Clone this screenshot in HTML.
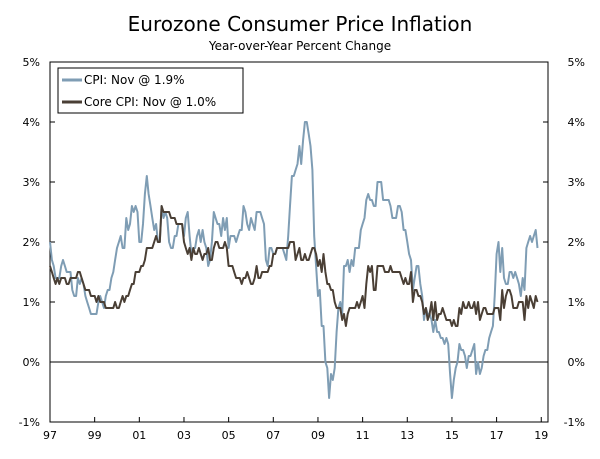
<!DOCTYPE html>
<html><head><meta charset="utf-8"><style>
body{margin:0;background:#fff;}
svg text{font-family:"DejaVu Sans","Liberation Sans",sans-serif;fill:#000;}
</style></head><body>
<svg id="c" width="600" height="454" viewBox="0 0 600 454">
<text x="300" y="31" font-size="20" text-anchor="middle">Eurozone Consumer Price Inflation</text>
<text x="300" y="50" font-size="12" text-anchor="middle">Year-over-Year Percent Change</text>
<g id="axes"></g>
<g id="series"></g>
<g>
<rect x="58" y="68" width="185" height="45" fill="#fff" stroke="#000" stroke-width="1"/>
<line x1="62" y1="80" x2="82" y2="80" stroke="#7f9db4" stroke-width="3"/>
<text x="84" y="84" font-size="12">CPI: Nov @ 1.9%</text>
<line x1="62" y1="102" x2="82" y2="102" stroke="#4a3f35" stroke-width="3"/>
<text x="84" y="106" font-size="12">Core CPI: Nov @ 1.0%</text>
</g>
</svg>
<script>
const yTicks=[5,4,3,2,1,0,-1];
const yTickLabels=["5%","4%","3%","2%","1%","0%","-1%"];
const xTickLabels=["97","99","01","03","05","07","09","11","13","15","17","19"];
const xTickYears=[1997,1999,2001,2003,2005,2007,2009,2011,2013,2015,2017,2019];
const cpi=[2.0,1.7,1.6,1.4,1.4,1.4,1.6,1.7,1.6,1.5,1.5,1.5,
1.2,1.1,1.1,1.4,1.3,1.4,1.3,1.1,1.0,0.9,0.8,0.8,
0.8,0.8,1.0,1.1,1.0,0.9,1.1,1.2,1.2,1.4,1.5,1.7,
1.9,2.0,2.1,1.9,1.9,2.4,2.2,2.3,2.6,2.5,2.6,2.5,
2.0,2.0,2.3,2.8,3.1,2.8,2.6,2.4,2.2,2.3,2.0,2.0,
2.6,2.4,2.5,2.4,2.0,1.9,1.9,2.1,2.1,2.3,2.3,2.3,
2.1,2.4,2.5,2.1,1.8,1.9,1.9,2.1,2.2,2.0,2.2,2.0,
1.9,1.6,1.7,2.0,2.5,2.4,2.3,2.3,2.1,2.4,2.2,2.4,
1.9,2.1,2.1,2.1,2.0,2.1,2.2,2.2,2.6,2.5,2.3,2.2,
2.4,2.3,2.2,2.5,2.5,2.5,2.4,2.3,1.7,1.6,1.9,1.9,
1.8,1.8,1.9,1.9,1.9,1.9,1.8,1.7,2.1,2.6,3.1,3.1,
3.2,3.3,3.6,3.3,3.7,4.0,4.0,3.8,3.6,3.2,2.1,1.6,
1.1,1.2,0.6,0.6,0.0,-0.1,-0.6,-0.2,-0.3,-0.1,0.5,0.9,
1.0,0.8,1.6,1.6,1.7,1.5,1.7,1.6,1.9,1.9,1.9,2.2,
2.3,2.4,2.7,2.8,2.7,2.7,2.6,2.6,3.0,3.0,3.0,2.7,
2.7,2.7,2.7,2.6,2.4,2.4,2.4,2.6,2.6,2.5,2.2,2.2,
2.0,1.8,1.7,1.2,1.4,1.6,1.6,1.3,1.1,0.7,0.9,0.8,
0.8,0.7,0.5,0.7,0.5,0.5,0.4,0.4,0.3,0.4,0.3,-0.2,
-0.6,-0.3,-0.1,0.0,0.3,0.2,0.2,0.1,-0.1,0.1,0.1,0.2,
0.3,-0.2,0.0,-0.2,-0.1,0.1,0.2,0.2,0.4,0.5,0.6,1.1,
1.8,2.0,1.5,1.9,1.4,1.3,1.3,1.5,1.5,1.4,1.5,1.4,
1.3,1.1,1.4,1.2,1.9,2.0,2.1,2.0,2.1,2.2,1.9];
const core=[1.6,1.5,1.4,1.3,1.4,1.3,1.4,1.4,1.4,1.3,1.3,1.4,
1.4,1.4,1.4,1.5,1.5,1.4,1.3,1.2,1.2,1.2,1.1,1.1,
1.1,1.0,1.1,1.0,1.0,1.0,0.9,0.9,0.9,0.9,0.9,1.0,
0.9,0.9,1.0,1.1,1.0,1.1,1.1,1.2,1.3,1.3,1.5,1.5,
1.5,1.6,1.6,1.7,1.9,1.9,1.9,1.9,2.0,2.1,2.0,2.0,
2.6,2.5,2.5,2.5,2.5,2.4,2.4,2.4,2.3,2.3,2.3,2.3,
2.0,1.9,1.8,1.9,1.7,1.9,1.8,1.8,1.9,1.8,1.7,1.8,
1.8,1.9,1.7,1.7,1.9,2.0,2.0,1.9,1.9,1.9,2.0,1.9,
1.6,1.6,1.6,1.5,1.4,1.4,1.4,1.3,1.4,1.4,1.5,1.4,
1.3,1.3,1.4,1.6,1.4,1.4,1.5,1.5,1.5,1.5,1.6,1.6,
1.8,1.8,1.9,1.9,1.9,1.9,1.9,1.9,1.9,2.0,2.0,2.0,
1.7,1.8,1.9,1.7,1.7,1.8,1.7,1.7,1.8,1.9,1.9,1.8,
1.6,1.7,1.5,1.8,1.5,1.3,1.3,1.2,1.2,1.0,0.9,0.9,
0.9,0.7,0.8,0.6,0.8,0.9,0.9,0.9,0.9,1.0,0.9,1.0,
1.1,0.9,1.3,1.6,1.5,1.6,1.2,1.2,1.6,1.6,1.6,1.6,
1.5,1.5,1.5,1.6,1.5,1.5,1.5,1.5,1.5,1.4,1.3,1.4,
1.3,1.3,1.5,1.0,1.2,1.2,1.1,1.1,1.0,0.8,0.9,0.7,
0.8,1.0,0.7,1.0,0.7,0.8,0.8,0.9,0.8,0.7,0.7,0.7,
0.6,0.7,0.6,0.6,0.9,0.8,1.0,0.9,0.9,1.0,0.9,0.9,
1.0,0.8,1.0,0.7,0.8,0.9,0.9,0.8,0.8,0.8,0.8,0.9,
0.9,0.9,0.7,1.2,0.9,1.1,1.2,1.2,1.1,0.9,0.9,0.9,
1.0,1.0,1.0,0.7,1.1,0.9,1.1,1.0,0.9,1.1,1.0];
const startYear=1997;
const L=50,R=548,T=62,B=422;
function y(v){return T+(5-v)*(B-T)/6;}
function x(m){return L+m*(22.33/12);}
function xYear(yr){return x((yr-startYear)*12);}
const NS="http://www.w3.org/2000/svg";
function mk(tag,attrs,parent){const e=document.createElementNS(NS,tag);for(const k in attrs)e.setAttribute(k,attrs[k]);parent.appendChild(e);return e;}
const ax=document.getElementById('axes');
const frame=mk('rect',{x:L,y:T,width:R-L,height:B-T,fill:'none',stroke:'#000','stroke-width':1},ax);


const zero=mk('line',{x1:L,x2:R,y1:y(0),y2:y(0),stroke:'#000','stroke-width':1},ax);


yTicks.forEach((v,i)=>{
 const tl=mk('text',{x:L-10,y:y(v)+4,'font-size':11,'text-anchor':'end'},ax);tl.textContent=yTickLabels[i];
 
 
 const tr=mk('text',{x:R+37,y:y(v)+4,'font-size':11,'text-anchor':'end'},ax);tr.textContent=yTickLabels[i];
 
 
 mk('line',{x1:L,x2:L+5,y1:y(v),y2:y(v),stroke:'#000'},ax);
 mk('line',{x1:R-5,x2:R,y1:y(v),y2:y(v),stroke:'#000'},ax);
});
xTickYears.forEach((yr,i)=>{
 const xx=xYear(yr);
 mk('line',{x1:xx,x2:xx,y1:B,y2:B-5,stroke:'#000'},ax);
 const t=mk('text',{x:xx,y:B+17,'font-size':11,'text-anchor':'middle'},ax);t.textContent=xTickLabels[i];
 
 
});
const sg=document.getElementById('series');
function line(arr,color,name){
 const d=arr.map((v,i)=>(i?'L':'M')+x(i).toFixed(1)+','+y(v).toFixed(1)).join('');
 const p=mk('path',{d:d,fill:'none',stroke:color,'stroke-width':2,'stroke-linejoin':'round'},sg);
 
 
}
line(cpi,'#7f9db4','cpi-line');
line(core,'#4a3f35','core-cpi-line');
</script>
</body></html>
